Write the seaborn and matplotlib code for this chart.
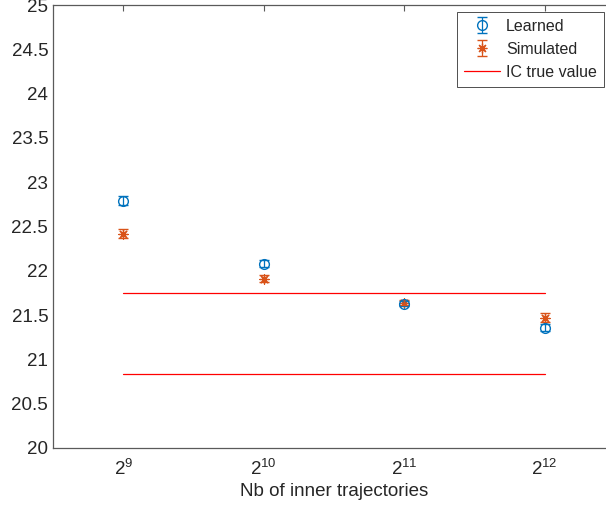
import numpy as np
import pandas as pd
import matplotlib
matplotlib.use("Agg")
import matplotlib.pyplot as plt
import seaborn as sns
from matplotlib.ticker import LogLocator, LogFormatterMathtext, NullLocator
from matplotlib.lines import Line2D
from matplotlib.container import ErrorbarContainer

# values
n_inner = [512, 1024, 2048, 4096]
learned = [22.79, 22.08, 21.63, 21.36]
learned_err = [0.05, 0.04, 0.03, 0.04]
simulated = [22.42, 21.91, 21.64, 21.47]
simulated_err = [0.05, 0.04, 0.03, 0.05]
ic_low = 20.83
ic_high = 21.75

sns.set_style("white")
plt.rcParams['font.family'] = ['Liberation Sans', 'DejaVu Sans']

blue = "#0072BD"
orange = "#D95319"
axis_col = "#5a5a5a"
text_col = "#262626"

fig = plt.figure(figsize=(6.06, 5.13), dpi=100)
ax = fig.add_axes([53 / 606, 65 / 513, 562 / 606, 443 / 513])

ax.errorbar(n_inner, learned, yerr=learned_err, fmt="o", color=blue,
            mfc="none", ms=7, mew=1.0, elinewidth=0.9, capsize=3.5,
            label="Learned")
ax.errorbar(n_inner, simulated, yerr=simulated_err, fmt="none", color=orange,
            elinewidth=0.9, capsize=3.5)
# asterisk marker, drawn as its own layer through seaborn
sns.scatterplot(x=n_inner, y=simulated, marker=(8, 2, 0), s=45,
                color=orange, linewidth=0.9, ax=ax)

ic = pd.DataFrame({"x": [n_inner[0], n_inner[-1]] * 2,
                   "y": [ic_high, ic_high, ic_low, ic_low],
                   "g": ["hi", "hi", "lo", "lo"]})
sns.lineplot(data=ic, x="x", y="y", units="g", estimator=None, color="#FF0000",
             lw=0.9, ax=ax, legend=False)

ax.set_xscale("log", base=2)
ax.set_xlim(2 ** 8.5, 2 ** 12.5)
ax.xaxis.set_major_locator(LogLocator(base=2, numticks=10))
ax.xaxis.set_major_formatter(LogFormatterMathtext(base=2))
ax.xaxis.set_minor_locator(NullLocator())
ax.set_ylim(20, 25)
ax.set_yticks(np.arange(20, 25.01, 0.5))
ax.set_yticklabels(["20", "20.5", "21", "21.5", "22", "22.5", "23", "23.5",
                    "24", "24.5", "25"])

ax.set_xlabel("Nb of inner trajectories", fontsize=13.5, color=text_col, labelpad=3)
ax.set_ylabel("")

for side in ["left", "bottom", "top"]:
    ax.spines[side].set_visible(True)
    ax.spines[side].set_color(axis_col)
    ax.spines[side].set_linewidth(0.9)
ax.spines["right"].set_visible(False)
ax.tick_params(direction="in", length=4, width=0.8, colors=axis_col,
               labelcolor=text_col, labelsize=13.5, top=True, right=False)
ax.tick_params(axis="x", pad=8)

# legend handles built to look like the matlab errorbar entries
h_learn = ax.containers[0]
h_sim = ErrorbarContainer(
    (Line2D([], [], marker=(8, 2, 0), ms=7, mew=0.9, color=orange, ls="none"),
     ax.containers[1].lines[1], ax.containers[1].lines[2]),
    has_yerr=True)
h_ic = Line2D([], [], color="#FF0000", lw=0.9)

leg = ax.legend([h_learn, h_sim, h_ic], ["Learned", "Simulated", "IC true value"],
                loc="upper right", bbox_to_anchor=(551 / 562, 0.985), fontsize=11.5,
                frameon=True, fancybox=False, framealpha=1, borderpad=0.45,
                handlelength=2.2, handletextpad=0.4, borderaxespad=0,
                labelspacing=0.5)
leg.get_frame().set_edgecolor("#333333")
leg.get_frame().set_linewidth(0.6)

fig.savefig("out.png", dpi=100)
